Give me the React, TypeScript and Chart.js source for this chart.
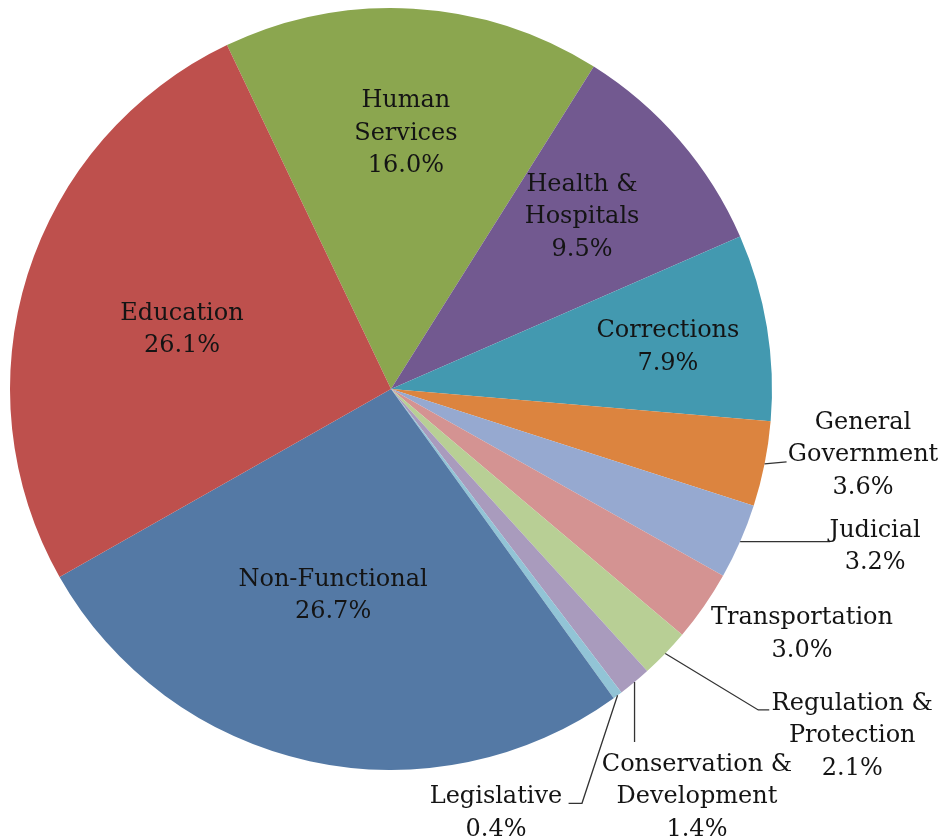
import React, { useEffect, useRef } from "react";
import { Chart, registerables } from "chart.js";

Chart.register(...registerables);

const categories = [
  "Human Services",
  "Health & Hospitals",
  "Corrections",
  "General Government",
  "Judicial",
  "Transportation",
  "Regulation & Protection",
  "Conservation & Development",
  "Legislative",
  "Non-Functional",
  "Education",
];
const shares = [16.0, 9.5, 7.9, 3.6, 3.2, 3.0, 2.1, 1.4, 0.4, 26.7, 26.1];
const labelLines = [
  ["Human", "Services"],
  ["Health &", "Hospitals"],
  ["Corrections"],
  ["General", "Government"],
  ["Judicial"],
  ["Transportation"],
  ["Regulation &", "Protection"],
  ["Conservation &", "Development"],
  ["Legislative"],
  ["Non-Functional"],
  ["Education"],
];
const sliceColors = [
  "#8BA64F",
  "#725990",
  "#4399B0",
  "#DC843F",
  "#96A9D0",
  "#D49392",
  "#B8CF95",
  "#A99BBD",
  "#92C4D6",
  "#5479A5",
  "#BE504D",
];

// label placement (style): inside = polar offset; outside = leader path + text block offset from arc edge at mid-angle
type Placement =
  | { kind: "in"; r: number; da: number }
  | { kind: "out"; path: number[][]; text: number[] };
const placements: Placement[] = [
  { kind: "in", r: 0.672, da: 0 },
  { kind: "in", r: 0.675, da: -1.3 },
  { kind: "in", r: 0.735, da: 0.8 },
  { kind: "out", path: [[22, -2]], text: [98.5, -9] },
  { kind: "out", path: [[90, 0]], text: [135, 5] },
  { kind: "out", path: [], text: [98, 28] },
  { kind: "out", path: [[93, 56.5], [104, 56.5]], text: [187, 82.5] },
  { kind: "out", path: [[0, 60]], text: [62.4, 115] },
  { kind: "out", path: [[-35.6, 108], [-49, 108]], text: [-121.6, 118] },
  { kind: "in", r: 0.564, da: 3.3 },
  { kind: "in", r: 0.57, da: -1.7 },
];

const FONT = "24px 'DejaVu Serif'";
const LINE_H = 32.5;

const labelPlugin = {
  id: "sliceLabels",
  afterDraw(chart: any) {
    const ctx = chart.ctx;
    const meta = chart.getDatasetMeta(0);
    ctx.save();
    ctx.font = FONT;
    ctx.fillStyle = "#141414";
    ctx.textAlign = "center";
    ctx.textBaseline = "middle";
    meta.data.forEach((arc: any, i: number) => {
      const { x, y, startAngle, endAngle, outerRadius } = arc.getProps(
        ["x", "y", "startAngle", "endAngle", "outerRadius"],
        true
      );
      const mid = (startAngle + endAngle) / 2;
      const lines = [...labelLines[i], shares[i].toFixed(1) + "%"];
      const p = placements[i];
      let cx: number, cy: number;
      if (p.kind === "in") {
        const a = mid + (p.da * Math.PI) / 180;
        cx = x + Math.cos(a) * outerRadius * p.r;
        cy = y + Math.sin(a) * outerRadius * p.r;
      } else {
        const ex = x + Math.cos(mid) * outerRadius;
        const ey = y + Math.sin(mid) * outerRadius;
        if (p.path.length) {
          ctx.beginPath();
          ctx.strokeStyle = "#333333";
          ctx.lineWidth = 1.3;
          ctx.moveTo(ex, ey);
          p.path.forEach((pt) => ctx.lineTo(ex + pt[0], ey + pt[1]));
          ctx.stroke();
        }
        cx = ex + p.text[0];
        cy = ey + p.text[1];
      }
      const top = cy - ((lines.length - 1) / 2) * LINE_H;
      lines.forEach((t, k) => ctx.fillText(t, cx, top + k * LINE_H));
    });
    ctx.restore();
  },
};

export default function App() {
  const ref = useRef<HTMLCanvasElement | null>(null);
  useEffect(() => {
    if (!ref.current) return;
    const chart = new Chart(ref.current, {
      type: "pie",
      data: {
        labels: categories,
        datasets: [
          {
            data: shares,
            backgroundColor: sliceColors,
            borderWidth: 0,
          },
        ],
      },
      options: {
        animation: false,
        responsive: false,
        rotation: -25.5,
        layout: { padding: { left: 10, top: 8, right: 174, bottom: 70 } },
        plugins: {
          legend: { display: false },
          tooltip: { enabled: false },
        },
      },
      plugins: [labelPlugin],
    });
    return () => chart.destroy();
  }, []);
  return (
    <div style={{ position: "fixed", left: 0, top: 0, width: 946, height: 840, background: "#fff" }}>
      <canvas ref={ref} width={946} height={840} style={{ width: 946, height: 840 }} />
    </div>
  );
}
